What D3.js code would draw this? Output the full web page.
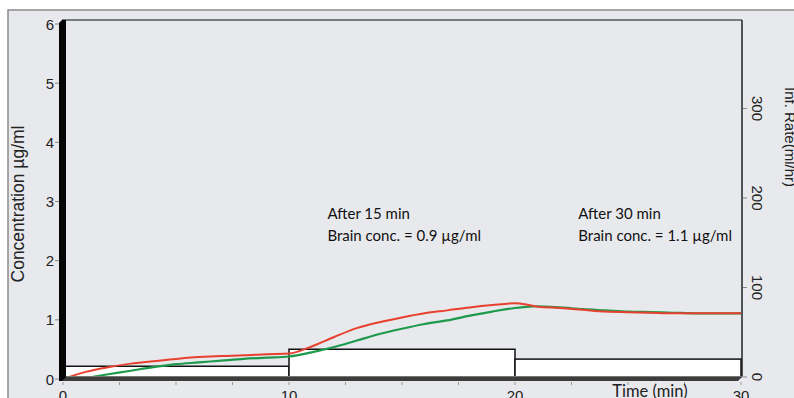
<!DOCTYPE html>
<html lang="en">
<head>
    <meta charset="UTF-8">
    <title>Brain concentration vs time</title>
    <style>
        body { margin: 0; background: #fff; }
        svg text { font-family: "Liberation Sans", Arial, sans-serif; }
        .note { font-family: Lato, "Open Sans", sans-serif; font-size: 15px; fill: #111; }
    </style>
</head>
<body>
    <div id="chart"></div>

    <script src="https://d3js.org/d3.v7.min.js"></script>
    <script>
        // time axis (min)
        var times = [0, 1, 2, 3, 4, 5, 6, 7, 8, 9, 10, 11, 12, 13, 14, 15, 16, 17, 18, 19, 20,
                     20.5, 21, 22, 23, 24, 25, 26, 27, 28, 29, 30];
        // plasma (red) and brain (green) concentration, ug/ml
        var redConc = [0, 0.12, 0.2, 0.26, 0.3, 0.34, 0.37, 0.39, 0.4, 0.42, 0.43, 0.55, 0.71, 0.86, 0.96,
                       1.04, 1.11, 1.16, 1.21, 1.25, 1.28, 1.26, 1.22, 1.2, 1.17, 1.14, 1.13, 1.12, 1.11, 1.11, 1.11, 1.11];
        var greenConc = [0, 0.02, 0.08, 0.14, 0.2, 0.25, 0.28, 0.31, 0.34, 0.36, 0.38, 0.45, 0.54, 0.65, 0.76,
                         0.85, 0.93, 0.99, 1.07, 1.14, 1.2, 1.22, 1.23, 1.21, 1.18, 1.16, 1.14, 1.13, 1.12, 1.11, 1.11, 1.11];
        // infusion steps
        var stepStart = [0, 10, 20];
        var stepEnd = [10, 20, 30];
        var stepRate = [12, 31, 20];

        var leftTicks = [0, 1, 2, 3, 4, 5, 6];
        var rightTicks = [0, 100, 200, 300];
        var timeTicks = [0, 10, 20, 30];
        var minorTimeTicks = d3.range(0, 30.01, 2.5);

        var notes = [
            {t: 11.7, lines: ["After 15 min", "Brain conc. = 0.9 \u00b5g/ml"]},
            {t: 22.8, lines: ["After 30 min", "Brain conc. = 1.1 \u00b5g/ml"]}
        ];

        var width = 794, height = 398;
        var bg = "#e8e9ed";

        var svg = d3.select("#chart").append("svg")
            .attr("width", width)
            .attr("height", height);

        var x = d3.scaleLinear().domain([0, 30]).range([63, 741]);
        var y = d3.scaleLinear().domain([0, 6]).range([379, 24]);
        var yr = d3.scaleLinear().domain([0, 400]).range([377, 19]);

        // outer frame
        svg.append("rect").attr("x", 8).attr("y", 10).attr("width", width).attr("height", height)
            .attr("fill", bg).attr("stroke", "#8a8a8a").attr("stroke-width", 1.5);

        // back wall
        svg.append("rect").attr("x", 66).attr("y", 20).attr("width", 676).attr("height", 357)
            .attr("fill", bg);
        svg.append("line").attr("x1", 62).attr("x2", 742).attr("y1", 20).attr("y2", 20)
            .attr("stroke", "#555").attr("stroke-width", 1.3);
        svg.append("line").attr("x1", 742).attr("x2", 742).attr("y1", 20).attr("y2", 377)
            .attr("stroke", "#222").attr("stroke-width", 1.5);

        // infusion rate bars
        svg.append("g").selectAll("rect")
            .data(stepRate)
            .join("rect")
            .attr("x", function(d, i) { return x(stepStart[i]); })
            .attr("width", function(d, i) { return x(stepEnd[i]) - x(stepStart[i]); })
            .attr("y", function(d) { return yr(d); })
            .attr("height", function(d) { return yr(0) - yr(d); })
            .attr("fill", "#fff")
            .attr("stroke", "#111")
            .attr("stroke-width", 1.5);

        // concentration curves
        var line = d3.line()
            .x(function(d, i) { return x(times[i]); })
            .y(function(d) { return y(d); })
            .curve(d3.curveMonotoneX);

        svg.append("path").datum(greenConc).attr("d", line)
            .attr("fill", "none").attr("stroke", "#1e9a4c").attr("stroke-width", 2.2);
        svg.append("path").datum(redConc).attr("d", line)
            .attr("fill", "none").attr("stroke", "#e8402e").attr("stroke-width", 2);

        // 3D floor and left wall
        var x0 = x(0), x30 = x(30);
        svg.append("polygon")
            .attr("points", [[x0 - 3, 381], [x30 - 3, 381], [x30 + 2, 376], [x0 + 2, 376]].join(" "))
            .attr("fill", "#3c3c3c");
        svg.append("line").attr("x1", x0).attr("x2", x30 + 2).attr("y1", 376.5).attr("y2", 376.5)
            .attr("stroke", "#777").attr("stroke-width", 1);
        svg.append("polygon")
            .attr("points", [[59, 381], [59, 23], [62, 20], [66, 20], [66, 377], [62, 381]].join(" "))
            .attr("fill", "#050505");

        // left axis
        var left = svg.append("g");
        left.selectAll("line").data(leftTicks).join("line")
            .attr("x1", 55).attr("x2", 59)
            .attr("y1", function(d) { return y(d); }).attr("y2", function(d) { return y(d); })
            .attr("stroke", "#888");
        left.selectAll("text").data(leftTicks).join("text")
            .attr("x", 54).attr("y", function(d) { return y(d) + 5.5; })
            .attr("text-anchor", "end").attr("font-size", 15).attr("fill", "#222")
            .text(function(d) { return d; });
        svg.append("text")
            .attr("transform", "translate(24,204) rotate(-90)")
            .attr("text-anchor", "middle").attr("font-size", 17.5).attr("fill", "#222")
            .text("Concentration \u00b5g/ml");

        // time axis
        var bottom = svg.append("g");
        bottom.selectAll("line").data(minorTimeTicks).join("line")
            .attr("x1", function(d) { return x(d); }).attr("x2", function(d) { return x(d); })
            .attr("y1", 382).attr("y2", 385)
            .attr("stroke", "#999");
        bottom.selectAll("text").data(timeTicks).join("text")
            .attr("x", function(d) { return x(d); }).attr("y", 401)
            .attr("text-anchor", "middle").attr("font-size", 15).attr("fill", "#222")
            .text(function(d) { return d; });
        svg.append("text")
            .attr("x", 650).attr("y", 397)
            .attr("text-anchor", "middle").attr("font-size", 16.5).attr("fill", "#222")
            .style("font-family", "Lato, sans-serif")
            .text("Time (min)");

        // right axis
        var right = svg.append("g");
        right.selectAll("line").data(rightTicks).join("line")
            .attr("x1", 743).attr("x2", 747)
            .attr("y1", function(d) { return yr(d); }).attr("y2", function(d) { return yr(d); })
            .attr("stroke", "#888");
        right.selectAll("text").data(rightTicks).join("text")
            .attr("transform", function(d) { return "translate(752," + yr(d) + ") rotate(90)"; })
            .attr("text-anchor", "middle").attr("font-size", 15).attr("fill", "#222")
            .text(function(d) { return d; });
        svg.append("text")
            .attr("transform", "translate(785,87) rotate(90)")
            .attr("font-size", 15).attr("fill", "#222")
            .text("Inf. Rate(ml/hr)");

        // annotations
        notes.forEach(function(n) {
            n.lines.forEach(function(s, i) {
                svg.append("text").attr("class", "note")
                    .attr("x", x(n.t)).attr("y", 219 + i * 22)
                    .text(s);
            });
        });
    </script>
</body>
</html>
